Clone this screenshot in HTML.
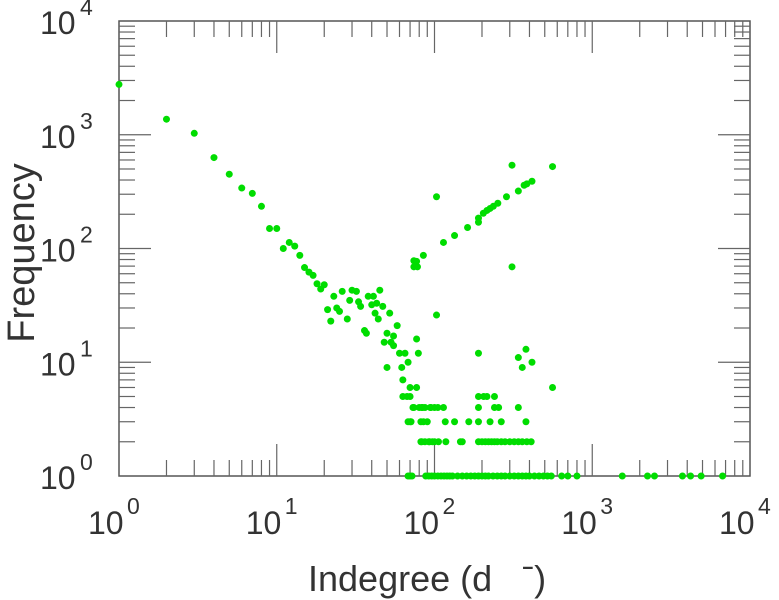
<!DOCTYPE html>
<html><head><meta charset="utf-8"><style>
html,body{margin:0;padding:0;background:#fff;}
svg{display:block;font-family:"Liberation Sans",sans-serif;}
</style></head><body>
<svg id="chart" width="779" height="600" viewBox="0 0 779 600"></svg>
<script>
// x: indegree, y: frequency
const xTail = [1,2,3,4,5,6,7,8,9,10,11,12,13,14,15,16,17,18,19,20];
const yTail = [2770,1370,1030,630,450,340,305,235,150,150,100,113,105,87,68,62,58,49,44,48];
const xMid = [21,22,23,24,25,26,28,29,30,32,33,34,36,37,38,40,41,42,43,44,45,47,48,50,50,52,53,55,55,58,60,62,63,65,68,70];
const yMid = [29,23,38,30,28,42,24,35,43,42,34,31,19,18,38,32,38,27,33,24,43,31,15,18,9,27,15,17,14,21,12,9,7,12,10,6];
const xUp = [74,77,78,74,85,103,114,134,162,190,190,204,215,225,236,252,286,310,340,370,385,415,560];
const yUp = [78,77,69,69,87,285,113,130,153,170,185,204,216,225,235,250,285,540,320,360,370,390,525];
const xScatter = [77,79,77,103,190,310,380,340,415,360,560];
const yScatter = [16,12,6,26,12,69,13,11,10,9,6];
const x5 = [63,67,70,190,205,215,240];
const x4 = [73,74,80,83,84,87,94,95,100,105,114,190,240,255,340];
const x3 = [68,70,71,82,85,90,117,134,165,190,225,265,380];
const x2 = [82,83,87,92,93,97,100,106,118,146,150,190,200,210,220,230,240,250,265,280,300,320,340,360,385,410];
const x1 = [68,70,72,88,92,96,100,105,110,115,120,125,130,140,150,160,170,180,190,200,210,220,235,250,265,280,300,320,340,360,380,400,430,460,490,520,550,640,700,800,1550,2240,2480,3730,4200,4900,6700];
const xTickExp = [0,1,2,3,4];
const yTickExp = [0,1,2,3,4];

const L=119,R=750,T=21,B=476;
const sx = v => L + Math.log10(v)/4*(R-L);
const sy = v => B - Math.log10(v)/4*(B-T);
const NS="http://www.w3.org/2000/svg";
const svg=document.getElementById('chart');
function mk(tag,attrs,parent){const e=document.createElementNS(NS,tag);for(const k in attrs)e.setAttribute(k,attrs[k]);(parent||svg).appendChild(e);return e;}

const ax=mk('g',{});


mk('rect',{x:L,y:T,width:R-L,height:B-T,fill:'none',stroke:'#555','stroke-width':1.5},ax);
for(let d=0;d<4;d++){for(let m=1;m<10;m++){
  const v=m*Math.pow(10,d);const len=m===1?32:16;
  const x=sx(v),y=sy(v);
  if(m===1&&d===0)continue;
  mk('line',{x1:x,y1:B,x2:x,y2:B-len,stroke:'#666','stroke-width':1.2},ax);
  mk('line',{x1:x,y1:T,x2:x,y2:T+len,stroke:'#666','stroke-width':1.2},ax);
  mk('line',{x1:L,y1:y,x2:L+len,y2:y,stroke:'#666','stroke-width':1.2},ax);
  mk('line',{x1:R,y1:y,x2:R-len,y2:y,stroke:'#666','stroke-width':1.2},ax);
}}

xTickExp.forEach(e=>{
  const t=mk('text',{x:sx(Math.pow(10,e))-31,y:534,'font-size':32,fill:'#333'});
  
  
  t.textContent='10';
  const s=mk('text',{x:sx(Math.pow(10,e))+8,y:514,'font-size':23,fill:'#333'});
  s.textContent=String(e);
});
yTickExp.forEach(e=>{
  const y=sy(Math.pow(10,e));
  const t=mk('text',{x:40,y:y+13,'font-size':32,fill:'#333'});
  
  
  t.textContent='10';
  const s=mk('text',{x:80,y:y-6,'font-size':23,fill:'#333'});
  s.textContent=String(e);
});
const xt=mk('text',{x:308,y:591,'font-size':36,fill:'#333'});


xt.setAttribute('xml:space','preserve');
xt.style.whiteSpace='pre';
xt.textContent='Indegree (d   \u02C9)';
const yt=mk('text',{x:0,y:0,'font-size':38,fill:'#333','text-anchor':'middle',transform:'translate(34,253) rotate(-90)'});


yt.textContent='Frequency';

const pts=mk('g',{fill:'#00dd00'});


function dot(x,y){const c=mk('circle',{cx:sx(x),cy:sy(y),r:3.5},pts);

}
xTail.forEach((x,i)=>dot(x,yTail[i]));
xMid.forEach((x,i)=>dot(x,yMid[i]));
xUp.forEach((x,i)=>dot(x,yUp[i]));
xScatter.forEach((x,i)=>dot(x,yScatter[i]));
x5.forEach(x=>dot(x,5));
x4.forEach(x=>dot(x,4));
x3.forEach(x=>dot(x,3));
x2.forEach(x=>dot(x,2));
x1.forEach(x=>dot(x,1));
</script>
</body></html>
